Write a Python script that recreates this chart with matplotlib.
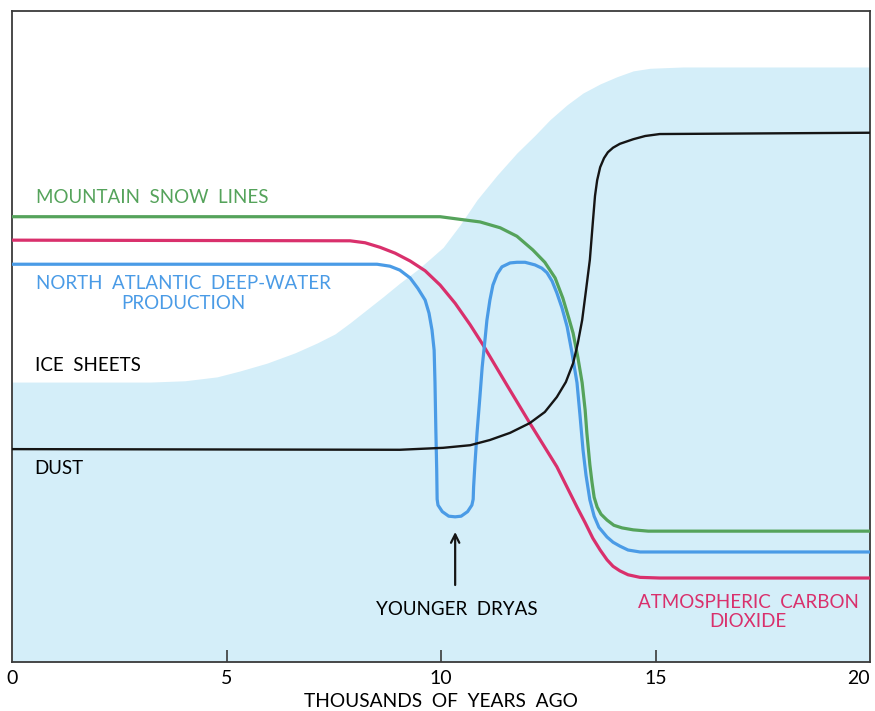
import matplotlib
matplotlib.use("Agg")
import matplotlib.pyplot as plt

# ---------------- data ----------------
# x: thousands of years ago; y: relative level (0 bottom .. 100 top)
ice_x = [0.0, 3.22, 4.03, 4.78, 5.31, 5.94, 6.60, 7.11, 7.53, 7.88,
         8.65, 9.04, 9.44, 9.74, 10.05, 10.44, 10.84, 11.31, 11.77, 12.19,
         12.54, 12.94, 13.31, 13.71, 14.10, 14.48, 14.87, 15.64, 20.0]
ice_y = [43.0, 43.0, 43.2, 43.8, 44.7, 45.9, 47.5, 49.0, 50.4, 52.1,
         56.1, 58.2, 60.2, 61.9, 63.7, 67.1, 71.0, 74.8, 78.2, 80.9,
         83.3, 85.6, 87.4, 88.8, 89.9, 90.8, 91.2, 91.4, 91.4]

snow_x = [0.0, 9.98, 10.44, 10.91, 11.38, 11.77, 12.14, 12.42, 12.66, 12.84,
          12.98, 13.08, 13.19, 13.29, 13.36, 13.40, 13.47, 13.52, 13.57,
          13.64, 13.73, 13.87, 14.03, 14.22, 14.48, 14.83, 20.0]
snow_y = [68.4, 68.4, 68.0, 67.6, 66.7, 65.4, 63.3, 61.4, 59.0, 55.9,
          52.8, 50.5, 46.8, 42.9, 38.7, 35.2, 30.3, 27.6, 25.3,
          23.8, 22.7, 21.8, 21.0, 20.6, 20.3, 20.1, 20.1]

co2_x = [0.0, 7.88, 8.23, 8.58, 8.93, 9.28, 9.63, 9.98, 10.33, 10.68,
         10.98, 11.54, 12.07, 12.70, 13.17, 13.36, 13.54, 13.71, 13.87,
         14.01, 14.17, 14.36, 14.64, 15.10, 20.0]
co2_y = [64.8, 64.7, 64.4, 63.7, 62.8, 61.6, 60.1, 57.9, 55.1, 51.8,
         48.7, 42.5, 36.7, 30.0, 23.8, 21.4, 19.0, 17.2, 15.7,
         14.7, 14.0, 13.4, 13.0, 12.9, 12.9]

nadw_x = [0.0, 8.51, 8.81, 9.04, 9.28, 9.46, 9.63, 9.72, 9.79, 9.84, 9.86,
          9.88, 9.90, 9.91, 9.93, 10.03, 10.18, 10.33, 10.47, 10.62, 10.72,
          10.75, 10.76, 10.79, 10.84, 10.91, 10.96, 11.03, 11.07, 11.14, 11.21,
          11.31, 11.42, 11.61, 11.77, 11.96, 12.19, 12.35, 12.47, 12.59, 12.70,
          12.82, 12.94, 13.05, 13.17, 13.24, 13.31, 13.38, 13.47, 13.57, 13.68,
          13.87, 14.01, 14.17, 14.36, 14.64, 15.10, 20.0]
nadw_y = [61.1, 61.1, 60.8, 60.2, 59.0, 57.4, 55.6, 53.6, 51.0, 47.9, 42.9,
          35.6, 29.5, 25.0, 24.1, 23.1, 22.4, 22.3, 22.4, 23.1, 24.1,
          25.0, 26.9, 30.3, 35.2, 41.0, 45.3, 49.8, 52.5, 55.6, 57.9,
          59.6, 60.7, 61.3, 61.4, 61.4, 61.0, 60.5, 59.8, 58.5, 56.7,
          54.4, 51.5, 47.6, 42.9, 37.9, 32.6, 28.7, 24.9, 22.4, 20.7,
          19.2, 18.4, 17.8, 17.2, 16.9, 16.9, 16.9]

dust_x = [0.0, 9.04, 10.05, 10.68, 11.14, 11.61, 12.07, 12.42, 12.70, 12.91,
          13.08, 13.19, 13.29, 13.38, 13.47, 13.54, 13.59, 13.64, 13.71,
          13.80, 13.89, 14.01, 14.17, 14.48, 14.76, 15.10, 20.0]
dust_y = [32.7, 32.6, 32.9, 33.3, 34.1, 35.2, 36.7, 38.4, 40.7, 43.0,
          45.9, 49.0, 52.5, 57.1, 61.8, 67.6, 71.6, 74.0, 76.0,
          77.4, 78.3, 79.0, 79.6, 80.3, 80.8, 81.1, 81.3]

xticks = [0, 5, 10, 15, 20]
xtick_labels = ["0", "5", "10", "15", "20"]

# ---------------- style ----------------
FONT = ["Lato", "DejaVu Sans"]
plt.rcParams["font.family"] = FONT

C_FILL = "#d4eef9"
C_GREEN = "#55a35b"
C_RED = "#d9306c"
C_BLUE = "#4a9be6"
C_BLACK = "#151515"
C_SPINE = "#3a3a3a"

fig = plt.figure(figsize=(8.75, 7.11), dpi=100)
ax = fig.add_axes([12 / 875, 49 / 711, 858 / 875, 651 / 711])

ax.fill_between(ice_x, 0, ice_y, color=C_FILL, lw=0, zorder=1)

line_kw = dict(solid_capstyle="butt", solid_joinstyle="round", zorder=3)
ax.plot(snow_x, snow_y, color=C_GREEN, lw=2.3, **line_kw)
ax.plot(co2_x, co2_y, color=C_RED, lw=2.3, **line_kw)
ax.plot(nadw_x, nadw_y, color=C_BLUE, lw=2.3, **line_kw)
ax.plot(dust_x, dust_y, color=C_BLACK, lw=1.7, solid_capstyle="butt",
        solid_joinstyle="round", zorder=4)

ax.set_xlim(0, 20)
ax.set_ylim(0, 100)
ax.set_yticks([])
ax.set_xticks(xticks)
ax.set_xticklabels(xtick_labels)
ax.tick_params(axis="x", direction="in", length=9, width=1.2, color=C_SPINE,
               labelsize=14, pad=6)
ax.get_xticklabels()[-1].set_ha("right")
for t in ax.xaxis.get_major_ticks()[::4]:
    t.tick1line.set_visible(False)

for s in ax.spines.values():
    s.set_color(C_SPINE)
    s.set_linewidth(1.3)

ax.set_xlabel("THOUSANDS  OF  YEARS  AGO", fontsize=13.8, labelpad=4, color="black")

# labels
ax.text(0.56, 71.4, "MOUNTAIN  SNOW  LINES", color=C_GREEN, fontsize=13.5,
        va="center", ha="left")
ax.text(4.0, 56.6, "NORTH  ATLANTIC  DEEP-WATER\nPRODUCTION", color=C_BLUE,
        fontsize=13.5, va="center", ha="center", linespacing=1.15)
ax.text(0.53, 45.6, "ICE  SHEETS", color="black", fontsize=13.5,
        va="center", ha="left")
ax.text(0.53, 29.8, "DUST", color="black", fontsize=13.5,
        va="center", ha="left")
ax.text(10.37, 8.0, "YOUNGER  DRYAS", color="black", fontsize=13.5,
        va="center", ha="center")
ax.text(17.16, 7.7, "ATMOSPHERIC  CARBON\nDIOXIDE", color=C_RED,
        fontsize=13.5, va="center", ha="center", linespacing=1.15)

ax.annotate("", xy=(10.33, 20.4), xytext=(10.33, 11.4),
            arrowprops=dict(arrowstyle="->,head_length=0.6,head_width=0.3",
                            color=C_BLACK, lw=1.6), zorder=5)

fig.savefig("out.png", dpi=100)
